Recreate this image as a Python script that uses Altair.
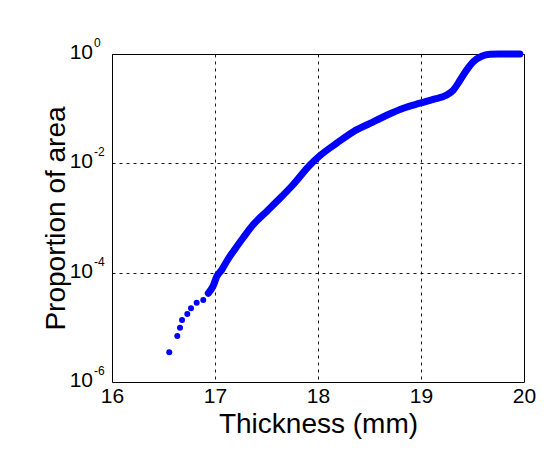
import altair as alt
import pandas as pd

# sparse dots at the low end (thickness mm, proportion of area)
sparse_x = [16.556, 16.634, 16.660, 16.680, 16.731, 16.767, 16.822, 16.886, 16.935]
sparse_y = [3.50e-6, 6.95e-6, 9.86e-6, 1.36e-5, 1.75e-5, 2.23e-5, 2.82e-5, 3.16e-5, 4.20e-5]

# dense part of the curve
dense_x = [16.935, 16.983, 17.017, 17.065, 17.114, 17.178, 17.275, 17.372, 17.502,
           17.631, 17.760, 17.922, 18.019, 18.182, 18.343, 18.505, 18.667, 18.828,
           18.990, 19.119, 19.250, 19.314, 19.379, 19.444, 19.508, 19.589, 19.670,
           19.750, 19.850, 19.960]
dense_y = [4.20e-5, 5.75e-5, 8.5e-5, 1.12e-4, 1.62e-4, 2.45e-4, 4.40e-4, 7.60e-4, 1.32e-3,
           2.29e-3, 4.10e-3, 9.3e-3, 1.38e-2, 2.34e-2, 3.80e-2, 5.37e-2, 7.59e-2, 0.102,
           0.126, 0.148, 0.178, 0.219, 0.331, 0.513, 0.724, 0.912, 0.989,
           1.0, 1.0, 1.0]

x_ticks = [16, 17, 18, 19, 20]
y_ticks = [1.0, 1e-2, 1e-4, 1e-6]
y_exps = ["0", "-2", "-4", "-6"]

FONT = "Liberation Sans"
BLUE = "#0000ff"

sparse = pd.DataFrame({"x": sparse_x, "y": sparse_y})
dense = pd.DataFrame({"x": dense_x, "y": dense_y})
labels = pd.DataFrame({"y": y_ticks, "exp": y_exps, "base": ["10"] * len(y_ticks)})

xs = alt.Scale(domain=[16, 20], nice=False, zero=False)
ys = alt.Scale(type="log", domain=[1e-6, 1], nice=False)

xax = alt.Axis(values=x_ticks, title="Thickness (mm)", format="d", labelFontSize=21,
               titleFontSize=28, labelPadding=3, titlePadding=4, ticks=False,
               labelFlush=False, labelOverlap=False,
               grid=True, gridDash=[3, 4], gridColor="#000", gridOpacity=0.9)
yax = alt.Axis(values=y_ticks, title="Proportion of area", labels=False, ticks=False,
               titleFontSize=28, titlePadding=42, grid=True, gridDash=[3, 4],
               gridColor="#000", gridOpacity=0.9)

line = alt.Chart(dense).mark_line(color=BLUE, strokeWidth=7, strokeCap="round",
                                  strokeJoin="round", interpolate="monotone").encode(
    x=alt.X("x:Q", scale=xs, axis=xax),
    y=alt.Y("y:Q", scale=ys, axis=yax),
)
pts = alt.Chart(sparse).mark_circle(color=BLUE, size=36, opacity=1).encode(
    x=alt.X("x:Q", scale=xs),
    y=alt.Y("y:Q", scale=ys),
)
base_txt = alt.Chart(labels).mark_text(align="right", baseline="middle", fontSize=21,
                                       font=FONT, color="#000", dy=-1).encode(
    x=alt.value(-19),
    y=alt.Y("y:Q", scale=ys),
    text="base:N",
)
exp_txt = alt.Chart(labels).mark_text(align="left", baseline="middle", fontSize=12,
                                      font=FONT, color="#000", dy=-11).encode(
    x=alt.value(-18),
    y=alt.Y("y:Q", scale=ys),
    text="exp:N",
)

chart = alt.layer(line, pts, base_txt, exp_txt).properties(
    width=412, height=328, autosize=alt.AutoSizeParams(type="none"),
    padding={"left": 104, "top": 46, "right": 20, "bottom": 58},
    background="#ffffff",
).configure_view(stroke="#000", strokeWidth=1).configure_axis(
    domain=False, labelFont=FONT, titleFont=FONT, labelColor="#000",
    titleColor="#000", titleFontWeight="normal",
)

chart.save("out.html", embed_options={"renderer": "svg", "actions": False})
